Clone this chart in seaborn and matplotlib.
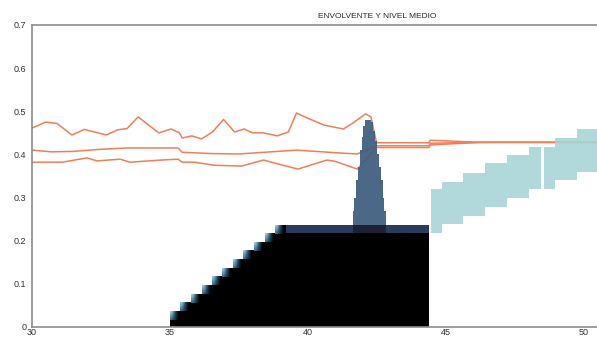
import matplotlib
matplotlib.use("Agg")
import matplotlib.pyplot as plt
from matplotlib.colors import LinearSegmentedColormap
import numpy as np
import pandas as pd
import seaborn as sns

# envelope / mean level lines (x, value)
upper_x = [30.0, 30.5, 30.9, 31.45, 31.9, 32.7, 33.1, 33.45, 33.85, 34.6, 35.05, 35.35,
           35.45, 35.8, 36.15, 36.55, 36.95, 37.35, 37.7, 38.0, 38.4, 38.9, 39.3, 39.6,
           40.0, 40.6, 40.9, 41.3, 41.65, 42.1, 42.3, 42.5, 44.4, 44.45, 46.3, 50.5]
upper_y = [0.461, 0.475, 0.472, 0.445, 0.458, 0.445, 0.457, 0.460, 0.487, 0.450, 0.459, 0.450,
           0.438, 0.443, 0.436, 0.452, 0.481, 0.452, 0.459, 0.450, 0.450, 0.443, 0.452, 0.496,
           0.484, 0.468, 0.464, 0.459, 0.473, 0.494, 0.487, 0.427, 0.427, 0.433, 0.428, 0.428]

mean_x = [30.0, 30.7, 31.5, 32.5, 33.5, 35.3, 35.45, 36.5, 37.5, 39.6, 41.0, 41.8,
          42.5, 44.4, 44.45, 46.3, 50.5]
mean_y = [0.410, 0.406, 0.407, 0.412, 0.415, 0.415, 0.405, 0.402, 0.401, 0.410, 0.404, 0.401,
          0.420, 0.420, 0.426, 0.428, 0.428]

lower_x = [30.0, 31.1, 32.0, 32.35, 33.2, 33.55, 34.7, 35.3, 35.45, 35.9, 36.6, 37.6,
           38.4, 38.8, 39.65, 40.7, 41.0, 41.8, 42.5, 44.4, 44.45, 46.3, 50.5]
lower_y = [0.382, 0.382, 0.392, 0.385, 0.389, 0.382, 0.387, 0.389, 0.382, 0.382, 0.375, 0.373,
           0.387, 0.380, 0.366, 0.387, 0.384, 0.366, 0.416, 0.416, 0.422, 0.428, 0.428]

# black staircase
stair_edges = [35.0, 35.38, 35.76, 36.15, 36.53, 36.91, 37.29, 37.67, 38.06, 38.44, 38.82, 44.39]
stair_tops = [0.036, 0.056, 0.076, 0.096, 0.117, 0.137, 0.157, 0.177, 0.197, 0.217, 0.217]

# navy band on top of the flat part
band_edges = [38.82, 44.39]
band_low, band_top = 0.217, 0.236
band_dark_edges = [41.64, 42.85]

# tall peak
peak_edges = [41.64, 41.70, 41.76, 41.83, 41.89, 41.96, 42.02, 42.09, 42.16, 42.23,
              42.31, 42.38, 42.45, 42.51, 42.58, 42.65, 42.72, 42.78, 42.85]
peak_tops = [0.27, 0.30, 0.34, 0.37, 0.41, 0.44, 0.465, 0.48, 0.48, 0.48,
             0.475, 0.455, 0.43, 0.40, 0.37, 0.34, 0.30, 0.27]

# light teal band on the right (gap column has zero height)
teal_edges = [44.46, 44.86, 45.65, 46.45, 47.25, 48.04, 48.48, 48.59, 48.99, 49.78, 50.5]
teal_tops = [0.320, 0.336, 0.357, 0.380, 0.399, 0.417, 0.320, 0.417, 0.438, 0.459]
teal_bottoms = [0.218, 0.239, 0.257, 0.278, 0.299, 0.320, 0.320, 0.320, 0.341, 0.359]

y_ticks = [0, 0.1, 0.2, 0.3, 0.4, 0.5, 0.6, 0.7]
y_labels = ["0", "0.1", "0.2", "0.3", "0.4", "0.5", "0.6", "0.7"]
x_ticks = [30, 35, 40, 45, 50]

sns.set_theme(style="white")
plt.rcParams["font.family"] = ["Liberation Sans", "DejaVu Sans"]

fig = plt.figure(figsize=(5.97, 3.37), dpi=100)
ax = fig.add_axes([32 / 597, 10 / 337, 565 / 597, 302 / 337])

line_col = "#ef7f57"
df = pd.concat([
    pd.DataFrame({"x": upper_x, "y": upper_y, "serie": "envolvente sup"}),
    pd.DataFrame({"x": mean_x, "y": mean_y, "serie": "nivel medio"}),
    pd.DataFrame({"x": lower_x, "y": lower_y, "serie": "envolvente inf"}),
])
sns.lineplot(data=df, x="x", y="y", units="serie", estimator=None, color=line_col,
             linewidth=1.1, ax=ax, legend=False, zorder=2)

# staircase + gradient edges
ax.stairs(stair_tops, stair_edges, baseline=0, fill=True, color="black", lw=0, zorder=1)
ax.stairs([band_top], band_edges, baseline=band_low, fill=True, color="#2a3b5c", lw=0, zorder=1.5)
ax.stairs([band_top], band_dark_edges, baseline=band_low, fill=True, color="#1a2233", lw=0, zorder=1.6)

cmap = LinearSegmentedColormap.from_list("stair", ["#000000", "#2a5570", "#96c9dc"])
u = np.linspace(0, 1, 16)
v = np.linspace(1, 0.6, 8)
grad = np.clip(1.2 - 1.5 * u, 0, 1)[None, :] * v[:, None]
cell_tops = stair_tops[:10] + [band_top]
for left, right, top in zip(stair_edges[:11], stair_edges[1:12], cell_tops):
    w = min(right - left, 0.382)
    ax.imshow(grad, extent=[left, left + w, top - 0.02, top], cmap=cmap, vmin=0, vmax=1,
              aspect="auto", interpolation="bilinear", zorder=1.7)

ax.stairs(peak_tops, peak_edges, baseline=band_top, fill=True, color="#3e5c7e",
          lw=0, alpha=0.93, zorder=3)
ax.stairs(teal_tops, teal_edges, baseline=teal_bottoms, fill=True, color="#a7d4d6",
          lw=0, alpha=0.88, zorder=3)

ax.set_xlim(30, 50.5)
ax.set_ylim(0, 0.7)
ax.set_xticks(x_ticks)
ax.set_yticks(y_ticks)
ax.set_yticklabels(y_labels)
ax.set_xlabel("")
ax.set_ylabel("")
ax.tick_params(axis="both", length=0, labelsize=6.5, colors="#333333")
ax.tick_params(axis="y", pad=4)
ax.tick_params(axis="x", pad=1)
for side in ["left", "top", "bottom"]:
    ax.spines[side].set_color("#8c8c8c")
    ax.spines[side].set_linewidth(1.2)
ax.spines["right"].set_visible(False)

fig.text(0.631, 0.952, "ENVOLVENTE Y NIVEL MEDIO", fontsize=6, color="#2a2a2a",
         ha="center", va="center")

fig.savefig("out.png", dpi=100, facecolor="white")
